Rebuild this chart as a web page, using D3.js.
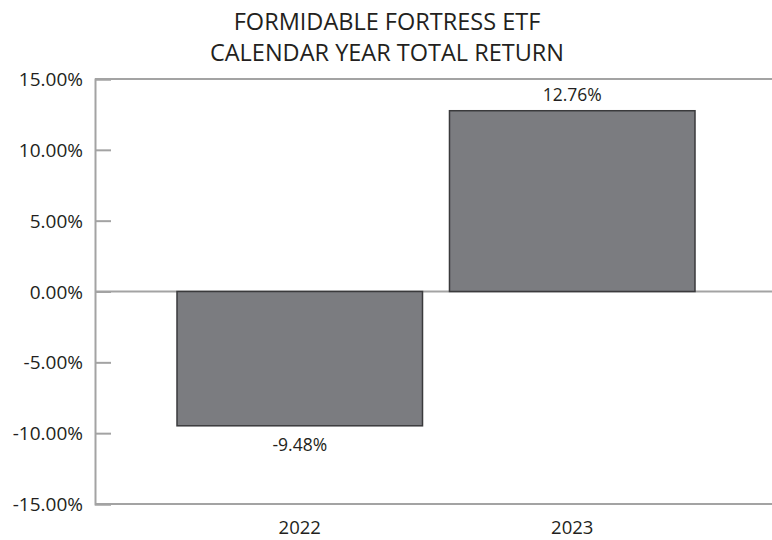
<!DOCTYPE html>
<html>
<head>
<meta charset="utf-8">
<script src="https://cdn.jsdelivr.net/npm/d3@7"></script>
<style>
  body { margin: 0; background: #fff; }
  text { font-family: "Open Sans", sans-serif; fill: #231f20; }
</style>
</head>
<body>
<div id="vis-container"></div>
<script>
const years = ["2022", "2023"];
const returns = [-9.48, 12.76];
const barLabels = ["-9.48%", "12.76%"];
const yTicks = [15, 10, 5, 0, -5, -10, -15];
const titleLines = ["FORMIDABLE FORTRESS ETF", "CALENDAR YEAR TOTAL RETURN"];

const width = 772;
const height = 540;
const margin = { top: 79, right: 0, bottom: 36, left: 95 };

const svg = d3.select("#vis-container")
              .append("svg")
              .attr("width", width)
              .attr("height", height);

// y scale from -15% to 15%
const y = d3.scaleLinear()
            .domain([-15, 15])
            .range([height - margin.bottom, margin.top]);

// bars sit in a band range inside the plot
const x = d3.scaleBand()
            .domain(years)
            .range([177, 695])
            .paddingInner(0.099)
            .paddingOuter(0);

const axisColor = "#a3a3a3";

// title
svg.selectAll(".title")
   .data(titleLines)
   .enter()
   .append("text")
   .attr("class", "title")
   .attr("x", 387)
   .attr("y", (d, i) => 30 + i * 31)
   .attr("text-anchor", "middle")
   .attr("font-size", "23.5px")
   .text(d => d);

// horizontal lines at top, zero and bottom span the whole width
svg.selectAll(".hline")
   .data([15, 0, -15])
   .enter()
   .append("line")
   .attr("x1", margin.left)
   .attr("x2", width)
   .attr("y1", d => y(d))
   .attr("y2", d => y(d))
   .attr("stroke", axisColor)
   .attr("stroke-width", 2);

// left axis
const yAxis = svg.append("g")
   .attr("transform", `translate(${margin.left},0)`)
   .call(d3.axisRight(y)
           .tickValues(yTicks)
           .tickSize(16)
           .tickFormat(() => ""));
yAxis.select(".domain").attr("stroke", axisColor).attr("stroke-width", 2);
yAxis.selectAll(".tick line").attr("stroke", axisColor).attr("stroke-width", 2);

svg.selectAll(".ylab")
   .data(yTicks)
   .enter()
   .append("text")
   .attr("class", "ylab")
   .attr("x", 83)
   .attr("y", d => y(d) + 7)
   .attr("text-anchor", "end")
   .attr("font-size", "19px")
   .text(d => d.toFixed(2) + "%");

// bars
svg.selectAll(".bar")
   .data(returns)
   .enter()
   .append("rect")
   .attr("class", "bar")
   .attr("x", (d, i) => x(years[i]))
   .attr("y", d => y(Math.max(0, d)))
   .attr("width", x.bandwidth())
   .attr("height", d => Math.abs(y(d) - y(0)))
   .attr("fill", "#7b7c80")
   .attr("stroke", "#3a3a3c")
   .attr("stroke-width", 1.5);

// value labels
svg.selectAll(".vlab")
   .data(returns)
   .enter()
   .append("text")
   .attr("class", "vlab")
   .attr("x", (d, i) => x(years[i]) + x.bandwidth() / 2)
   .attr("y", d => d >= 0 ? y(d) - 10 : y(d) + 25)
   .attr("text-anchor", "middle")
   .attr("font-size", "17.5px")
   .text((d, i) => barLabels[i]);

// year labels
svg.selectAll(".xlab")
   .data(years)
   .enter()
   .append("text")
   .attr("class", "xlab")
   .attr("x", d => x(d) + x.bandwidth() / 2)
   .attr("y", 534)
   .attr("text-anchor", "middle")
   .attr("font-size", "18.5px")
   .text(d => d);
</script>
</body>
</html>
